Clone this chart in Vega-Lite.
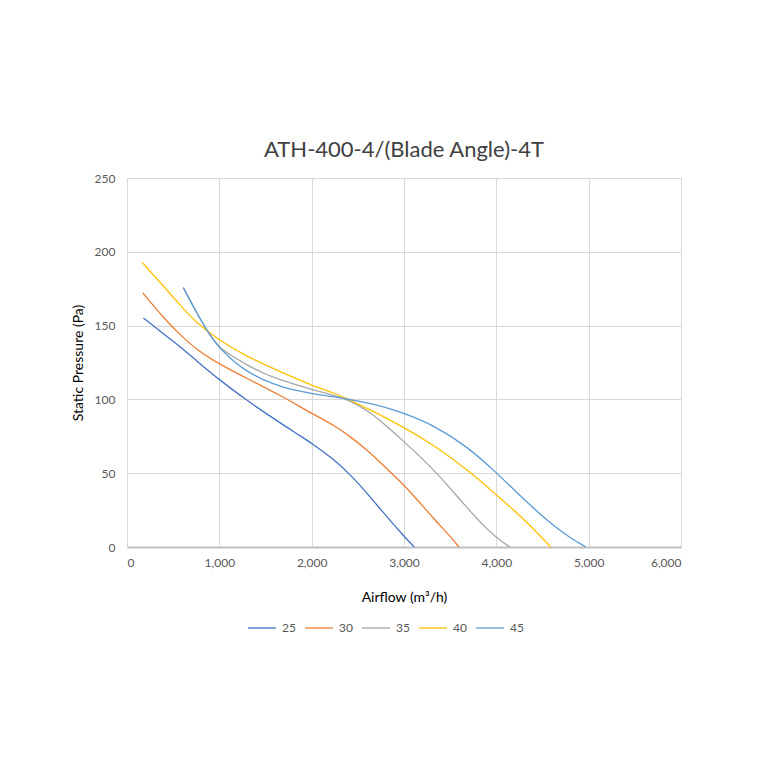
{
  "$schema": "https://vega.github.io/schema/vega-lite/v6.json",
  "width": 554,
  "height": 369,
  "autosize": {"type": "none"},
  "padding": {"left": 127, "top": 178, "right": 79, "bottom": 213},
  "background": "white",
  "title": {
    "text": "ATH-400-4/(Blade Angle)-4T",
    "font": "Lato",
    "fontSize": 22,
    "fontWeight": "normal",
    "color": "#404040",
    "offset": 10
  },
  "data": {
    "values": [
      {"angle": "25", "airflow": 177, "pressure": 155.2},
      {"angle": "25", "airflow": 394, "pressure": 144.5},
      {"angle": "25", "airflow": 574, "pressure": 135.9},
      {"angle": "25", "airflow": 755, "pressure": 126.1},
      {"angle": "25", "airflow": 1000, "pressure": 113.2},
      {"angle": "25", "airflow": 1296, "pressure": 99.5},
      {"angle": "25", "airflow": 1531, "pressure": 89.3},
      {"angle": "25", "airflow": 1877, "pressure": 75.2},
      {"angle": "25", "airflow": 2000, "pressure": 70.3},
      {"angle": "25", "airflow": 2238, "pressure": 59.5},
      {"angle": "25", "airflow": 2419, "pressure": 49},
      {"angle": "25", "airflow": 2599, "pressure": 36.5},
      {"angle": "25", "airflow": 2780, "pressure": 23},
      {"angle": "25", "airflow": 2960, "pressure": 10},
      {"angle": "25", "airflow": 3110, "pressure": 0},
      {"angle": "30", "airflow": 170, "pressure": 172.3},
      {"angle": "30", "airflow": 394, "pressure": 155.2},
      {"angle": "30", "airflow": 574, "pressure": 143.9},
      {"angle": "30", "airflow": 755, "pressure": 133.6},
      {"angle": "30", "airflow": 1000, "pressure": 123.9},
      {"angle": "30", "airflow": 1296, "pressure": 114.3},
      {"angle": "30", "airflow": 1657, "pressure": 103},
      {"angle": "30", "airflow": 2000, "pressure": 90.4},
      {"angle": "30", "airflow": 2238, "pressure": 82.7},
      {"angle": "30", "airflow": 2419, "pressure": 74.8},
      {"angle": "30", "airflow": 2599, "pressure": 65.8},
      {"angle": "30", "airflow": 2780, "pressure": 55},
      {"angle": "30", "airflow": 3000, "pressure": 42.1},
      {"angle": "30", "airflow": 3144, "pressure": 32},
      {"angle": "30", "airflow": 3325, "pressure": 19},
      {"angle": "30", "airflow": 3505, "pressure": 7},
      {"angle": "30", "airflow": 3594, "pressure": 0},
      {"angle": "35", "airflow": 610, "pressure": 175.7},
      {"angle": "35", "airflow": 755, "pressure": 158.6},
      {"angle": "35", "airflow": 881, "pressure": 145},
      {"angle": "35", "airflow": 1000, "pressure": 135},
      {"angle": "35", "airflow": 1116, "pressure": 130.2},
      {"angle": "35", "airflow": 1296, "pressure": 123.4},
      {"angle": "35", "airflow": 1477, "pressure": 117.7},
      {"angle": "35", "airflow": 1657, "pressure": 113.2},
      {"angle": "35", "airflow": 2000, "pressure": 106.7},
      {"angle": "35", "airflow": 2238, "pressure": 103},
      {"angle": "35", "airflow": 2419, "pressure": 99.1},
      {"angle": "35", "airflow": 2599, "pressure": 92.8},
      {"angle": "35", "airflow": 2780, "pressure": 83.8},
      {"angle": "35", "airflow": 3000, "pressure": 71.4},
      {"angle": "35", "airflow": 3144, "pressure": 63},
      {"angle": "35", "airflow": 3325, "pressure": 52},
      {"angle": "35", "airflow": 3505, "pressure": 39.5},
      {"angle": "35", "airflow": 3686, "pressure": 26.4},
      {"angle": "35", "airflow": 3866, "pressure": 14},
      {"angle": "35", "airflow": 4000, "pressure": 6.5},
      {"angle": "35", "airflow": 4144, "pressure": 0},
      {"angle": "40", "airflow": 166, "pressure": 192.7},
      {"angle": "40", "airflow": 394, "pressure": 176.8},
      {"angle": "40", "airflow": 574, "pressure": 163.9},
      {"angle": "40", "airflow": 755, "pressure": 151.8},
      {"angle": "40", "airflow": 1000, "pressure": 139.8},
      {"angle": "40", "airflow": 1296, "pressure": 129.1},
      {"angle": "40", "airflow": 1657, "pressure": 118.9},
      {"angle": "40", "airflow": 2000, "pressure": 109.5},
      {"angle": "40", "airflow": 2238, "pressure": 104.5},
      {"angle": "40", "airflow": 2419, "pressure": 99.5},
      {"angle": "40", "airflow": 2599, "pressure": 93.9},
      {"angle": "40", "airflow": 2780, "pressure": 88.3},
      {"angle": "40", "airflow": 3000, "pressure": 81},
      {"angle": "40", "airflow": 3325, "pressure": 69},
      {"angle": "40", "airflow": 3686, "pressure": 52.3},
      {"angle": "40", "airflow": 4000, "pressure": 35.4},
      {"angle": "40", "airflow": 4227, "pressure": 23},
      {"angle": "40", "airflow": 4408, "pressure": 12},
      {"angle": "40", "airflow": 4588, "pressure": 0},
      {"angle": "45", "airflow": 610, "pressure": 175.7},
      {"angle": "45", "airflow": 755, "pressure": 158.6},
      {"angle": "45", "airflow": 881, "pressure": 145},
      {"angle": "45", "airflow": 1000, "pressure": 134.8},
      {"angle": "45", "airflow": 1116, "pressure": 128},
      {"angle": "45", "airflow": 1296, "pressure": 118.9},
      {"angle": "45", "airflow": 1477, "pressure": 113.2},
      {"angle": "45", "airflow": 1657, "pressure": 108.6},
      {"angle": "45", "airflow": 2000, "pressure": 103.8},
      {"angle": "45", "airflow": 2238, "pressure": 101.8},
      {"angle": "45", "airflow": 2419, "pressure": 100},
      {"angle": "45", "airflow": 2599, "pressure": 97.7},
      {"angle": "45", "airflow": 2780, "pressure": 95},
      {"angle": "45", "airflow": 3000, "pressure": 90.6},
      {"angle": "45", "airflow": 3325, "pressure": 82.5},
      {"angle": "45", "airflow": 3686, "pressure": 68},
      {"angle": "45", "airflow": 4000, "pressure": 50.5},
      {"angle": "45", "airflow": 4227, "pressure": 36.5},
      {"angle": "45", "airflow": 4408, "pressure": 26},
      {"angle": "45", "airflow": 4588, "pressure": 16},
      {"angle": "45", "airflow": 4769, "pressure": 7.5},
      {"angle": "45", "airflow": 4968, "pressure": 0}
    ]
  },
  "mark": {"type": "line", "interpolate": "basis", "strokeWidth": 1.3},
  "encoding": {
    "x": {
      "field": "airflow",
      "type": "quantitative",
      "scale": {"domain": [0, 6000], "nice": false},
      "axis": {
        "values": [0, 1000, 2000, 3000, 4000, 5000, 6000],
        "format": ",.0f",
        "title": "Airflow (m³/h)",
        "titlePadding": 22,
        "labelPadding": 10
      }
    },
    "y": {
      "field": "pressure",
      "type": "quantitative",
      "scale": {"domain": [0, 250], "nice": false},
      "axis": {
        "values": [0, 50, 100, 150, 200, 250],
        "title": "Static Pressure (Pa)",
        "titlePadding": 9,
        "labelPadding": 12
      }
    },
    "color": {
      "field": "angle",
      "type": "nominal",
      "scale": {
        "domain": ["25", "30", "35", "40", "45"],
        "range": ["#4472C4", "#ED7D31", "#A5A5A5", "#FFC000", "#5B9BD5"]
      },
      "legend": {
        "title": null,
        "orient": "none",
        "legendX": 120,
        "legendY": 435,
        "direction": "horizontal",
        "symbolType": "stroke",
        "symbolSize": 784,
        "symbolStrokeWidth": 1.3,
        "labelOffset": 5,
        "columnPadding": 6
      }
    }
  },
  "config": {
    "font": "Lato",
    "view": {"stroke": "#d9d9d9"},
    "axis": {
      "labelFont": "Lato",
      "labelFontSize": 12,
      "labelColor": "#595959",
      "titleFont": "Lato",
      "titleFontSize": 14,
      "titleFontWeight": "normal",
      "titleColor": "#000000",
      "gridColor": "#d9d9d9",
      "gridWidth": 1,
      "ticks": false,
      "domain": false
    },
    "axisX": {"domain": true, "domainColor": "#bfbfbf", "domainWidth": 2},
    "legend": {
      "labelFont": "Lato",
      "labelFontSize": 12,
      "labelColor": "#595959"
    }
  }
}
